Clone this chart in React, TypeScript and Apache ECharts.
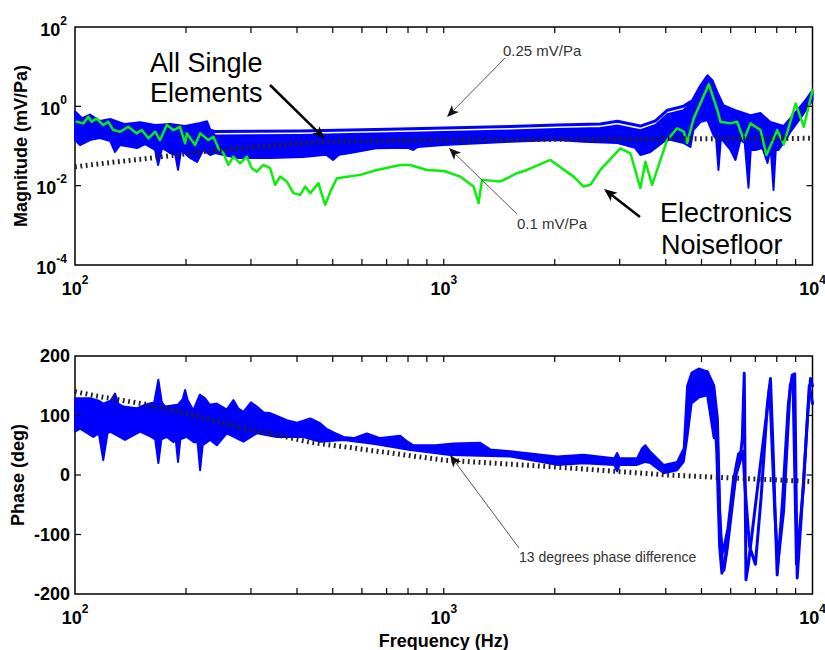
import React, { useEffect, useRef } from 'react';
import * as echarts from 'echarts';

const FONT = '"Liberation Sans", Arial, Helvetica, sans-serif';
const BLUE = '#0000ff';
const GREEN = '#0aee0a';

// ---- tick values ----
const freqTicks = [200, 300, 400, 500, 600, 700, 800, 900, 1000, 2000, 3000, 4000, 5000, 6000, 7000, 8000, 9000];
const magTicks = [0.01, 1];
const phaseTicks = [-100, 0, 100];

// ---- magnitude (Hz, mV/Pa) ----
const magBandUpper = [
  [100, 0.75], [104.5, 0.5], [109.8, 0.62], [116.9, 0.425], [124.5, 0.48], [136.7, 0.357], [150.1, 0.4],
  [164.9, 0.337], [181.1, 0.36], [198.9, 0.318], [218.4, 0.38], [228.1, 0.42], [233, 0.25], [239.9, 0.184],
  [408, 0.189], [762, 0.212], [1000, 0.225], [1515, 0.246], [2032, 0.267], [2658, 0.284], [2957, 0.33],
  [3414, 0.25], [3750, 0.337], [4042, 0.636], [4467, 0.8], [4666, 1.2], [4966, 3.4], [5188, 6.08], [5354, 4.55],
  [5521, 2.27], [5735, 1.07], [6180, 0.8], [6789, 0.6], [7226, 0.675], [7691, 0.401], [8343, 0.318],
  [9000, 0.715], [9572, 1.43], [10000, 2.55],
];
const magBandLower = [
  [100, 0.1415], [103.2, 0.106], [109.8, 0.1415], [116.9, 0.159], [124.5, 0.134], [128.4, 0.0707], [132.5, 0.106],
  [147.3, 0.0891], [154.9, 0.112], [164.9, 0.0793], [168, 0.0333], [172.2, 0.0891], [181.1, 0.0667], [187, 0.06],
  [190.3, 0.025], [194, 0.0793], [205.2, 0.0499], [214.3, 0.0396], [222.6, 0.0793], [232.5, 0.0594],
  [239.9, 0.0667], [275.3, 0.0499], [338.2, 0.0499], [415.6, 0.053], [480, 0.06], [501, 0.0445], [520, 0.06],
  [557.7, 0.0667], [655.7, 0.0875], [800, 0.09], [826.4, 0.0793], [850, 0.095], [1000, 0.106], [1515, 0.128],
  [2032, 0.1415], [2390, 0.128], [2957, 0.119], [3300, 0.09], [3414, 0.0594], [3634, 0.0707], [4042, 0.15],
  [4467, 0.119], [4666, 0.0944], [4754, 0.252], [4966, 0.401], [5188, 0.45], [5387, 0.187], [5480, 0.15],
  [5559, 0.025], [5640, 0.14], [5700, 0.1415], [5992, 0.0793], [6180, 0.0445], [6376, 0.1415], [6550, 0.12],
  [6705, 0.0089], [6800, 0.08], [7003, 0.0793], [7316, 0.0891], [7550, 0.0374], [7700, 0.09], [7839, 0.0078],
  [7950, 0.08], [8087, 0.0793], [8447, 0.1415], [8716, 0.225], [9278, 0.506], [10000, 1.43],
];
const magUpperLine = [
  [233, 0.25], [239.9, 0.231], [408, 0.238], [762, 0.267], [1000, 0.283], [1515, 0.309], [2032, 0.337],
  [2658, 0.357], [2957, 0.42], [3414, 0.318], [3750, 0.43], [4042, 0.8], [4467, 1.0], [4666, 1.3],
];
const noiseFloor = [
  [101.1, 0.408], [105.3, 0.372], [108.7, 0.545], [111, 0.408], [114.5, 0.497], [119.3, 0.337], [123.1, 0.408],
  [127, 0.252], [132.5, 0.229], [139.5, 0.305], [147, 0.208], [151.7, 0.252], [158.1, 0.156], [164.9, 0.229],
  [170.1, 0.1415], [177.4, 0.337], [184.8, 0.252], [192.7, 0.305], [198.9, 0.117], [201, 0.208], [211.7, 0.106],
  [218.4, 0.208], [230, 0.1415], [237.3, 0.171], [244.8, 0.0875], [252.6, 0.0656], [260.6, 0.0333],
  [268.9, 0.0538], [280.4, 0.0367], [292.4, 0.0538], [301.6, 0.0275], [311.2, 0.0226], [324.3, 0.0333],
  [338.2, 0.0275], [348.9, 0.0105], [360, 0.0169], [375.4, 0.0127], [391.2, 0.00648], [408, 0.00587],
  [421, 0.0095], [434.5, 0.00648], [457.3, 0.0116], [466, 0.0065], [476.9, 0.0033], [495, 0.00784],
  [513.1, 0.0154], [593.4, 0.0187], [658.7, 0.0249], [762.1, 0.0333], [811.1, 0.0333], [900.5, 0.0249],
  [1002, 0.0235], [1109, 0.0169], [1205, 0.0095], [1243, 0.00363], [1270, 0.014], [1423, 0.0127],
  [1515, 0.0169], [1579, 0.0206], [1682, 0.0249], [1945, 0.0445], [2250, 0.0169], [2395, 0.0095],
  [2498, 0.0105], [2658, 0.0249], [3013, 0.0875], [3207, 0.0656], [3414, 0.0087], [3522, 0.0403],
  [3673, 0.0105], [4034, 0.1415], [4294, 0.278], [4475, 0.229], [4571, 0.12], [4764, 0.497], [5233, 3.6],
  [5521, 0.803], [5627, 0.408], [5992, 0.372], [6246, 0.408], [6510, 0.1415], [6789, 0.372], [7226, 0.252],
  [7504, 0.0594], [8021, 0.252], [8359, 0.11], [9000, 1.18], [9472, 0.305], [10000, 2.55],
];
const magReference = [
  [100, 0.03], [130, 0.04], [150, 0.046], [170, 0.053], [218, 0.07], [280, 0.088], [350, 0.104], [434, 0.122],
  [550, 0.13], [700, 0.136], [1000, 0.141], [2000, 0.147], [5000, 0.153], [10000, 0.156],
];

// ---- phase (Hz, deg) ----
const phaseBandUpper = [
  [100, 129], [109.8, 129], [116, 125], [119.3, 120], [125, 125], [128.4, 137], [131, 120], [135.2, 115],
  [147, 112], [155, 118], [164, 122], [168.3, 160], [172, 122], [175.5, 115], [190, 118], [196, 128],
  [198.9, 143], [202, 126], [209.4, 109], [218, 135], [225.3, 129], [232, 118], [242.4, 120], [258, 110],
  [268.9, 126], [277, 112], [286.2, 106], [300, 122], [311.2, 115], [325, 105], [338.2, 104], [350, 100],
  [375.4, 92], [400, 88], [434.5, 95], [462.2, 87], [480, 78], [501.3, 72], [534.8, 64], [570, 62],
  [618.8, 70], [672.4, 62], [762.1, 66], [790, 58], [827.9, 50], [950, 50], [1063, 53], [1256, 54],
  [1337, 43], [1515, 40], [2029, 31], [2395, 34], [2900, 28], [2951, 37], [3000, 28], [3344, 28], [3450, 45],
  [3522, 50], [3634, 39], [3950, 17], [4294, 22], [4475, 45], [4571, 150], [4700, 172], [4915, 179],
  [5178, 174], [5397, 150], [5550, 60],
];
const phaseBandLower = [
  [100, 73], [103.2, 78], [112.1, 64], [116, 70], [119.3, 25], [122.5, 70], [124.5, 73], [136.7, 59],
  [150.1, 73], [160, 65], [165, 60], [168.3, 20], [171.5, 60], [177.4, 64], [185, 55], [187.5, 60],
  [190.3, 22], [193, 60], [201, 64], [210, 55], [215, 55], [218.4, 8], [222, 50], [232.5, 59], [242.4, 50],
  [258, 70], [286.2, 56], [311.2, 70], [352.7, 64], [416.5, 64], [462.2, 56], [534.8, 59], [650, 52],
  [811, 42], [1041, 33.6], [1515, 31], [2029, 17], [2395, 19.6], [2900, 17], [2951, 6], [3000, 17],
  [3344, 17], [3522, 22], [3634, 20], [3950, 3], [4294, 8], [4475, 22], [4571, 60], [4700, 120],
  [4915, 130], [5178, 134], [5397, 62], [5550, 60],
];
const phaseTraceA = [
  [5178, 174], [5397, 150], [5521, 95], [5600, -60], [5700, -150], [5750, -160], [5868, -125], [6116, -30],
  [6246, 20], [6376, 32], [6450, 60], [6530, 171], [6600, -176], [6700, -150], [7100, -20], [7500, 100],
  [7691, 162], [7800, 60], [8021, -168], [8300, -40], [8600, 120], [8809, 168], [8950, 170], [9088, -173],
  [9300, -80], [9700, 100], [9876, 162], [10000, 150],
];
const phaseTraceB = [
  [5178, 160], [5397, 130], [5500, 40], [5600, -120], [5680, -165], [5800, -140], [6000, -60], [6200, 0],
  [6376, 25], [6480, 40], [6560, -20], [6750, -120], [7000, -150], [7250, -40], [7550, 120], [7650, 150],
  [7900, -60], [8050, -150], [8350, -60], [8700, 150], [8850, 165], [9050, -150], [9450, -20], [9800, 150],
  [10000, 120],
];
const phaseTraceC = [
  [5178, 170], [5397, 140], [5521, 60], [5620, -100], [5720, -130], [5900, -90], [6100, -10], [6300, 35],
  [6376, 38],
];
const phaseReference = [
  [100, 140], [117, 131.6], [160, 117.6], [218, 98], [298, 75.6], [338, 70], [434, 55], [1000, 25],
  [1945, 14], [4042, 0], [10000, -11],
];

const powRich = {
  b: { fontSize: 18, fontWeight: 'bold', fontFamily: FONT, color: '#000', lineHeight: 30 },
  s: { fontSize: 12, fontWeight: 'bold', fontFamily: FONT, color: '#000', lineHeight: 12, verticalAlign: 'top' },
};
const expOf = (v: number) => Math.round(Math.log10(v));

function bandSeries(idx: number, upper: number[][], lower: number[][]) {
  return {
    type: 'custom', xAxisIndex: idx, yAxisIndex: idx, silent: true, z: 2,
    data: [upper[0]],
    renderItem: (_p: any, api: any) => {
      const pts = upper.map((p) => api.coord(p)).concat(lower.slice().reverse().map((p) => api.coord(p)));
      return {
        type: 'polygon', shape: { points: pts },
        style: { fill: BLUE, stroke: BLUE, lineWidth: 2, lineJoin: 'round' },
      };
    },
  };
}

function tickSeries(idx: number, yTicks: number[], yRef: number) {
  return {
    type: 'custom', xAxisIndex: idx, yAxisIndex: idx, silent: true, z: 10, clip: false,
    data: [[1000, yRef]],
    renderItem: (params: any, api: any) => {
      const cs = params.coordSys;
      const L = 6;
      const st = { stroke: '#000', lineWidth: 1.2 };
      const children: any[] = [];
      freqTicks.forEach((f) => {
        const x = api.coord([f, yRef])[0];
        children.push({ type: 'line', shape: { x1: x, y1: cs.y, x2: x, y2: cs.y + L }, style: st });
        children.push({ type: 'line', shape: { x1: x, y1: cs.y + cs.height, x2: x, y2: cs.y + cs.height - L }, style: st });
      });
      yTicks.forEach((v) => {
        const y = api.coord([1000, v])[1];
        children.push({ type: 'line', shape: { x1: cs.x, y1: y, x2: cs.x + L, y2: y }, style: st });
        children.push({ type: 'line', shape: { x1: cs.x + cs.width, y1: y, x2: cs.x + cs.width - L, y2: y }, style: st });
      });
      return { type: 'group', children };
    },
  };
}

function lineSeries(idx: number, data: number[][], color: string, width: number, z = 3, dotted = false) {
  return {
    type: 'line', xAxisIndex: idx, yAxisIndex: idx, data, showSymbol: false, symbol: 'none', silent: true, z,
    lineStyle: dotted
      ? { color, width, type: [1.8, 3.6], cap: 'butt' }
      : { color, width, join: 'round', cap: 'round' },
  };
}

function arrow(x1: number, y1: number, x2: number, y2: number, lineColor: string, lw: number, head: string, hl: number, hw: number) {
  const dx = x2 - x1, dy = y2 - y1;
  const len = Math.hypot(dx, dy);
  const ux = dx / len, uy = dy / len;
  const nx = -uy, ny = ux;
  const bx = x2 - ux * hl, by = y2 - uy * hl;
  const cx = x2 - ux * hl * 0.75, cy = y2 - uy * hl * 0.75;
  return [
    { type: 'line', z: 100, shape: { x1, y1, x2: cx, y2: cy }, style: { stroke: lineColor, lineWidth: lw } },
    {
      type: 'polygon', z: 100,
      shape: { points: [[x2, y2], [bx + nx * hw, by + ny * hw], [cx, cy], [bx - nx * hw, by - ny * hw]] },
      style: { fill: head },
    },
  ];
}

function label(text: string, x: number, y: number, size: number, color: string) {
  return {
    type: 'text', z: 100, x, y,
    style: {
      text, fill: color, fontSize: size, fontFamily: FONT,
      align: 'left', verticalAlign: 'middle', textAlign: 'left', textVerticalAlign: 'middle',
    },
  };
}

const xAxisBase = (gridIndex: number, extra: any = {}) => ({
  type: 'log', logBase: 10, min: 100, max: 10000, gridIndex,
  axisLine: { show: false }, axisTick: { show: false }, splitLine: { show: false },
  axisLabel: { margin: 9, formatter: (v: number) => `{b|10}{s|${expOf(v)}}`, rich: powRich },
  ...extra,
});

const nameStyle = { fontSize: 18, fontWeight: 'bold', fontFamily: FONT, color: '#000' };

export default function App() {
  const ref = useRef<HTMLDivElement>(null);
  useEffect(() => {
    document.body.style.margin = '0';
    const chart = echarts.init(ref.current as HTMLDivElement, null, { renderer: 'svg' });
    const option: any = {
      animation: false,
      backgroundColor: '#fff',
      grid: [
        { left: 75, top: 27, width: 737.5, height: 238, show: true, borderColor: '#000', borderWidth: 1.5, backgroundColor: '#fff', containLabel: false, outerBoundsMode: 'none' },
        { left: 75, top: 356, width: 737.5, height: 238, show: true, borderColor: '#000', borderWidth: 1.5, backgroundColor: '#fff', containLabel: false, outerBoundsMode: 'none' },
      ],
      xAxis: [
        xAxisBase(0),
        xAxisBase(1, {
          name: 'Frequency (Hz)', nameLocation: 'middle', nameGap: 38, nameMoveOverlap: false, nameTextStyle: nameStyle,
        }),
      ],
      yAxis: [
        {
          type: 'log', logBase: 10, min: 0.0001, max: 100, gridIndex: 0,
          axisLine: { show: false }, axisTick: { show: false }, splitLine: { show: false },
          axisLabel: {
            margin: 8, padding: [5, 0, 0, 0],
            formatter: (v: number) => { const e = expOf(v); return e % 2 === 0 ? `{b|10}{s|${e}}` : ''; },
            rich: powRich,
          },
          name: 'Magnitude (mV/Pa)', nameLocation: 'middle', nameRotate: 90, nameGap: 45, nameMoveOverlap: false, nameTextStyle: nameStyle,
        },
        {
          type: 'value', min: -200, max: 200, interval: 100, gridIndex: 1,
          axisLine: { show: false }, axisTick: { show: false }, splitLine: { show: false },
          axisLabel: { margin: 5, fontSize: 18, fontWeight: 'bold', fontFamily: FONT, color: '#000' },
          name: 'Phase (deg)', nameLocation: 'middle', nameRotate: 90, nameGap: 48, nameMoveOverlap: false, nameTextStyle: nameStyle,
        },
      ],
      series: [
        bandSeries(0, magBandUpper, magBandLower),
        lineSeries(0, magUpperLine, BLUE, 3),
        lineSeries(0, noiseFloor, GREEN, 2.5, 4),
        lineSeries(0, magReference, '#222', 5, 6, true),
        tickSeries(0, magTicks, 1),
        bandSeries(1, phaseBandUpper, phaseBandLower),
        lineSeries(1, phaseTraceA, BLUE, 3),
        lineSeries(1, phaseTraceB, BLUE, 3),
        lineSeries(1, phaseTraceC, BLUE, 3),
        lineSeries(1, phaseReference, '#222', 5, 6, true),
        tickSeries(1, phaseTicks, 0),
      ],
      graphic: [
        label('All Single', 150, 62.5, 27, '#000'),
        label('Elements', 150, 92.5, 27, '#000'),
        label('Electronics', 660, 213, 27, '#000'),
        label('Noisefloor', 661, 245, 27, '#000'),
        label('0.25 mV/Pa', 503, 50, 15, '#333'),
        label('0.1 mV/Pa', 517, 223, 15, '#333'),
        label('13 degrees phase difference', 519, 556.5, 14, '#333'),
        ...arrow(270, 85, 325, 139, '#000', 2.5, '#000', 13, 5),
        ...arrow(505, 58, 447, 117, '#555', 1, '#111', 12, 5),
        ...arrow(517, 214, 449, 148, '#555', 1, '#111', 12, 5),
        ...arrow(640, 217, 604, 189, '#000', 2.5, '#000', 13, 5.5),
        ...arrow(519, 548, 450, 455, '#555', 1, '#111', 12, 5),
      ],
    };
    chart.setOption(option);
    return () => chart.dispose();
  }, []);
  return <div ref={ref} style={{ width: 825, height: 650 }} />;
}
